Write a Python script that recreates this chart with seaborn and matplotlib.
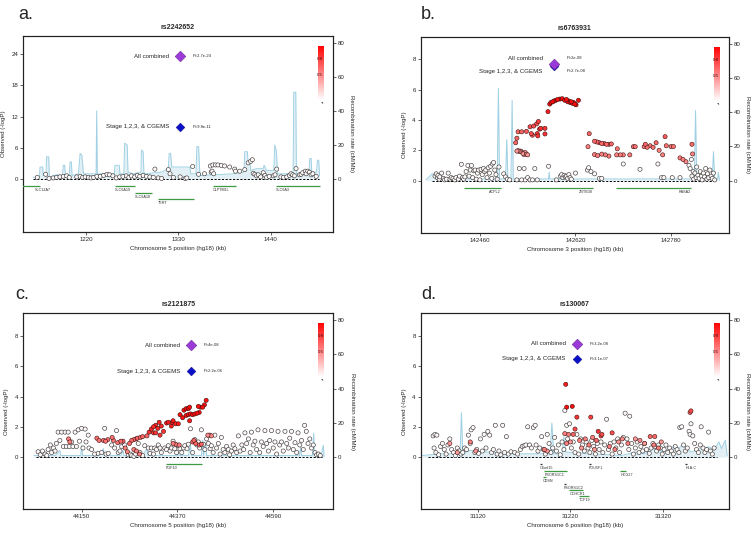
import numpy as np
import pandas as pd
import matplotlib
matplotlib.use("Agg")
import matplotlib.pyplot as plt
import seaborn as sns
from matplotlib.colors import LinearSegmentedColormap

sns.set_style("ticks")
plt.rcParams['font.family'] = ['Liberation Sans', 'DejaVu Sans']

# ---------------- DATA ----------------
titles = ["rs2242652", "rs6763931", "rs2121875", "rs130067"]
panel_letters = ["a.", "b.", "c.", "d."]
chromosomes = [5, 3, 5, 6]
index_pos = [1332, 142584, 44402, 31227]
p_combined = [2.7e-24, 2e-08, 4e-08, 3.2e-08]
p_stage = [9.8e-11, 2.7e-08, 2.2e-06, 3.1e-07]
p_combined_txt = ["P=2.7e-24", "P=2e-08", "P=4e-08", "P=3.2e-08"]
p_stage_txt = ["P=9.8e-11", "P=2.7e-08", "P=2.2e-06", "P=3.1e-07"]

# panel a: (position kb, -log10 P) low-LD SNPs
a_pos = [1162,1172,1176,1181,1185,1189,1193,1197,1200,1209,1213,1216,1219,1223,1226,1229,1233,1237,1241,
         1245,1248,1252,1256,1260,1264,1268,1271,1274,1278,1281,1284,1288,1292,1296,1300,1302,1306,1310,1318,
         1320,1324,1332,1338,1340,1347,1354,1361,1368,1369,1370,1371,1372,1374,1377,1381,1385,1391,1397,1398,
         1403,1409,1413,1416,1418,1419,1421,1423,1425,1428,1431,1433,1435,1438,1443,1445,1447,1452,1455,1459,
         1462,1464,1466,1468,1470,1474,1476,1478,1481,1482,1484,1486,1488,1490,1494]
a_logp = [0.3,0.9,0.1,0.2,0.3,0.4,0.5,0.6,0.3,0.4,0.5,0.3,0.4,0.3,0.2,0.3,0.5,0.5,0.7,
          0.9,0.8,0.6,0.2,0.4,0.5,0.6,0.3,0.6,0.4,0.7,0.5,0.7,0.5,0.4,0.3,1.9,0.2,0.1,1.8,
          1.0,0.3,0.4,0.1,0.2,2.4,0.9,1.0,2.5,1.3,1.5,2.7,1.0,2.7,2.7,2.6,2.5,2.3,1.9,1.5,
          1.5,1.8,3.1,3.4,3.7,1.1,0.9,0.6,0.8,0.4,1.2,0.7,0.3,0.5,0.6,0.8,1.9,0.4,0.3,0.4,
          0.7,1.0,0.8,0.6,2.0,0.8,0.9,1.2,1.5,1.0,1.5,1.3,0.8,1.0,0.5]
a_ld = []

a_rec = [(1157,1),(1164.5,1),(1165.3,7),(1168.5,7),(1169,2),(1172.4,2),(1173,13),(1175.6,13),(1176.4,1),
         (1185,2.5),(1192,2),(1193,8),(1194.6,8),(1195.4,2),(1200,2),(1201,10),(1202.6,10),(1203.4,2),
         (1211,3),(1213,15),(1215,14),(1217,3),(1232,3),(1232.7,40),(1233.5,3),(1253.7,3),(1254.5,8),
         (1259.6,8),(1260.4,3),(1265,3),(1266,21),(1269,20),(1270,4),(1276,3),(1285.4,4),(1286,17),
         (1288,16),(1289,3),(1310,4),(1318,6),(1319,15),(1320.7,15),(1322,7),(1343.7,7),(1344.5,3),
         (1350.8,3),(1352,19),(1354,19),(1355.6,2),(1395,3),(1408,4),(1409,16),(1412,16),(1413,10),
         (1415,10),(1416,5),(1423,6),(1431,6),(1432,8),(1435,5),(1443.5,5),(1444.7,20),(1446.7,16),
         (1448,3),(1466.5,3),(1467.3,51),(1469.7,51),(1470.5,3),(1485.5,4),(1486.3,12),(1488,12),
         (1488.7,4),(1494.3,4),(1495.5,11),(1497,11),(1498,2)]

a_genes = [("SLC12A7",1130,1165,0,'l'),("SLC6A19",1254,1278,0,'l'),("SLC6A18",1278,1299,1,'l'),
           ("TERT",1306,1348,2,'l'),("CLPTM1L",1371,1398,0,'l'),("SLC6A3",1446,1499,0,'l')]

# panel b
b_white = [(142385,0.3),(142387,0.45),(142389,0.2),(142390,0.35),(142392,0.1),(142393,0.25),(142396,0.5),
           (142399,0.15),(142401,0.05),(142404,0.1),(142407,0.5),(142410,0.1),(142412,0.2),(142415,0.15),
           (142418,0.05),(142420,0.2),(142424,0.1),(142426,0.3),(142429,1.08),(142431,0.2),(142433,0.1),
           (142435,0.25),(142437,0.6),(142440,1.0),(142442,0.3),(142444,0.7),(142446,1.0),(142448,0.2),
           (142450,0.65),(142452,0.7),(142454,0.1),(142456,0.5),(142458,0.7),(142460,0.05),(142462,0.75),
           (142464,0.4),(142466,0.8),(142468,0.6),(142470,0.7),(142472,0.2),(142474,0.85),(142476,0.5),
           (142478,0.95),(142480,0.15),(142481,1.1),(142483,1.2),(142485,0.7),(142487,0.4),(142489,0.1),
           (142492,0.9),(142500,0.45),(142503,0.25),(142506,0.1),(142510,0.05),(142522,0.05),(142526,0.8),
           (142530,0.05),(142534,0.8),(142536,0.05),(142540,0.2),(142544,0.05),(142548,0.05),(142552,0.8),
           (142556,0.05),(142575,0.95),(142588,0.05),(142595,0.3),(142597,0.4),(142599,0.2),(142601,0.35),
           (142603,0.25),(142605,0.3),(142607,0.15),(142609,0.4),(142611,0.2),(142613,0.1),(142620,0.5),
           (142640,0.7),(142642,0.85),(142646,0.6),(142652,0.45),(142660,0.15),(142664,0.15),(142700,1.1),
           (142728,0.75),(142758,1.1),(142764,0.2),(142768,0.2),(142782,0.2),(142795,0.2),(142810,1.0),
           (142812,0.8),(142814,1.4),(142815,0.3),(142817,0.6),(142818,0.1),(142820,0.5),(142822,0.2),
           (142823,0.9),(142825,0.35),(142827,0.15),(142829,0.6),(142831,0.3),(142832,0.05),(142834,0.5),
           (142836,0.25),(142838,0.8),(142840,0.1),(142841,0.45),(142843,0.2),(142845,0.7),(142847,0.3),
           (142849,0.15),(142851,0.5),(142853,0.05)]
b_ld = [(142520,2.5,0.6),(142522,2.8,0.6),(142524,3.22,0.6),(142530,3.22,0.6),(142538,3.25,0.65),
        (142544,3.55,0.7),(142546,3.1,0.7),(142548,3.0,0.7),(142550,3.6,0.7),(142555,3.74,0.7),
        (142556,3.1,0.8),(142558,3.9,0.75),(142560,3.4,0.8),(142562,3.45,0.8),(142557,2.95,0.8),
        (142569,3.45,0.8),(142569,3.08,0.8),
        (142522,1.95,0.4),(142524,1.98,0.4),(142526,1.92,0.4),(142528,1.95,0.4),(142530,1.9,0.4),
        (142532,1.8,0.4),(142534,1.72,0.4),(142536,1.85,0.4),(142538,1.75,0.4),(142540,1.7,0.4),
        (142574,4.55,0.9),(142577,5.05,0.95),(142579,5.15,0.95),(142582,5.2,0.95),(142584,5.25,0.95),
        (142587,5.3,0.95),(142590,5.35,0.95),(142594,5.38,0.95),(142598,5.4,0.95),(142602,5.3,0.95),
        (142605,5.35,0.95),(142607,5.2,0.95),(142609,5.25,0.95),(142611,5.15,0.95),(142613,5.2,0.95),
        (142615,5.1,0.95),(142617,5.15,0.95),(142619,5.05,0.95),(142621,5.0,0.95),(142625,5.3,0.95),
        (142643,3.1,0.6),(142641,2.24,0.5),(142652,2.6,0.6),(142656,2.55,0.6),(142660,2.5,0.6),
        (142664,2.45,0.6),(142668,2.45,0.6),(142672,2.4,0.6),(142676,2.4,0.6),(142680,2.42,0.6),
        (142652,1.72,0.5),(142657,1.65,0.5),(142664,1.75,0.5),(142670,1.7,0.5),(142676,1.62,0.5),
        (142690,2.1,0.55),(142689,1.7,0.5),(142695,1.7,0.5),(142700,1.7,0.5),(142711,1.7,0.5),
        (142717,2.24,0.55),(142720,2.24,0.55),(142735,2.24,0.55),(142737,2.4,0.6),(142740,2.2,0.55),
        (142745,2.3,0.55),(142750,2.2,0.55),(142755,2.5,0.6),(142760,2.0,0.5),(142766,1.7,0.5),
        (142770,2.9,0.65),(142772,2.3,0.55),(142780,2.25,0.55),(142784,2.25,0.55),(142795,1.5,0.5),
        (142800,1.4,0.5),(142805,1.25,0.45),(142816,1.76,0.5),(142815,2.4,0.6)]
b_rec = [(142370,0.5),(142380,4),(142388,4),(142392,1),(142440,1),(142489,1),(142491,54),(142493,1),
         (142503,1),(142505,24),(142507,1),(142512,1),(142514,47),(142516,1),(142575,1),(142576,5),
         (142577,1),(142640,1),(142700,1),(142760,1),(142815,1),(142819,1),(142821,41),(142823,2),
         (142849,2),(142851,17),(142853,1),(142858,1),(142859,5),(142861,0.5)]
b_genes = [("ACPL2",142434,142495,0,'r'),("ZBTB38",142526,142650,0,'r'),("RASA2",142688,142813,0,'r')]

# panel c
c_white = [(44050,0.35),(44055,0.15),(44060,0.4),(44066,0.2),(44070,0.1),(44073,0.5),(44078,0.8),(44081,0.3),
           (44085,0.6),(44089,0.4),(44092,0.9),(44096,1.65),(44100,1.1),(44104,1.65),(44108,0.7),(44112,1.65),
           (44115,0.7),(44119,1.65),(44122,0.7),(44127,1.0),(44130,0.7),(44135,1.65),(44138,0.7),(44142,1.8),
           (44145,1.05),(44150,1.9),(44153,0.6),(44158,1.85),(44160,1.0),(44165,1.45),(44167,0.6),(44173,0.5),
           (44180,0.2),(44188,0.25),(44196,0.3),(44203,1.9),(44206,0.2),(44211,0.25),(44219,0.8),(44226,0.6),
           (44230,1.75),(44234,0.3),(44238,0.4),(44242,0.7),(44249,0.8),(44257,0.15),(44262,0.2),(44265,0.1),
           (44270,0.05),(44274,0.2),(44280,0.9),(44284,0.3),(44290,0.1),(44295,0.75),(44303,0.6),(44307,0.25),
           (44310,0.6),(44315,0.2),(44318,0.6),(44322,0.5),(44326,0.8),(44330,0.6),(44333,0.3),(44341,0.6),
           (44345,0.5),(44349,0.75),(44353,0.4),(44356,0.6),(44360,1.05),(44364,0.55),(44368,0.3),(44372,0.75),
           (44376,0.55),(44380,0.3),(44384,0.6),(44387,0.75),(44392,0.55),(44395,0.85),(44400,1.87),(44405,0.3),
           (44410,1.15),(44415,0.8),(44418,1.0),(44421,0.6),(44425,1.8),(44430,0.85),(44433,0.5),(44437,1.2),
           (44441,0.9),(44445,0.55),(44448,0.75),(44452,0.3),(44456,1.45),(44460,0.6),(44464,0.9),(44468,0.2),
           (44471,1.3),(44475,0.5),(44479,0.3),(44483,0.7),(44487,0.5),(44490,0.15),(44494,0.4),(44498,0.8),
           (44502,0.55),(44506,0.3),(44510,1.4),(44514,0.4),(44518,0.8),(44522,0.5),(44525,1.6),(44529,0.9),
           (44533,1.2),(44537,0.3),(44540,1.65),(44544,0.8),(44548,1.05),(44552,0.5),(44555,1.8),(44559,0.3),
           (44563,1.0),(44567,0.7),(44571,1.75),(44575,0.9),(44579,0.4),(44582,1.1),(44586,1.75),(44590,0.6),
           (44594,1.0),(44598,0.2),(44601,1.7),(44605,0.8),(44609,1.0),(44613,0.4),(44617,1.7),(44621,0.9),
           (44625,0.6),(44628,1.25),(44632,1.7),(44636,0.5),(44640,0.95),(44644,0.3),(44647,1.6),(44651,0.8),
           (44655,1.1),(44659,0.5),(44662,2.1),(44666,1.7),(44670,0.9),(44674,1.2),(44678,0.6),(44682,0.8),
           (44686,0.3),(44690,0.15),(44694,0.2),(44698,0.1)]
c_ld = [(44120,1.2,0.5),(44123,1.0,0.5),(44185,1.25,0.55),(44190,1.1,0.55),(44200,1.1,0.55),(44205,1.05,0.55),
        (44210,1.15,0.55),(44220,1.3,0.55),(44223,1.1,0.55),(44233,0.95,0.55),(44240,1.05,0.6),(44245,1.05,0.6),
        (44260,0.9,0.6),(44265,1.1,0.6),(44270,1.15,0.6),(44275,1.2,0.6),(44278,1.25,0.6),(44285,1.3,0.6),
        (44290,1.35,0.6),(44300,1.4,0.6),(44270,0.5,0.5),(44276,0.4,0.5),(44250,0.6,0.5),(44255,0.35,0.5),
        (44283,0.2,0.5),(44360,0.9,0.5),(44366,0.85,0.5),(44374,0.8,0.5),(44405,1.0,0.6),(44408,1.1,0.6),
        (44412,0.9,0.6),(44420,0.8,0.6),(44425,0.85,0.6),(44440,1.45,0.45),(44444,1.45,0.45),(44448,1.4,0.45),
        (44305,1.65,0.8),(44310,1.85,0.85),(44315,2.0,0.85),(44320,2.1,0.85),(44325,1.9,0.85),(44328,2.3,0.85),
        (44333,2.05,0.85),(44315,1.6,0.8),(44320,1.6,0.8),(44330,1.45,0.8),(44338,1.7,0.8),(44345,2.25,0.9),
        (44349,2.3,0.9),(44356,2.05,0.9),(44358,2.3,0.9),(44360,2.4,0.9),(44366,2.2,0.9),(44372,2.2,0.9),
        (44376,2.8,0.95),(44382,2.6,0.95),(44385,3.1,0.95),(44390,3.2,0.95),(44395,3.2,0.95),(44398,3.3,0.95),
        (44390,2.75,0.95),(44395,2.8,0.95),(44400,2.85,0.95),(44405,2.8,0.95),(44410,2.85,0.95),(44415,2.9,0.95),
        (44420,2.95,0.95),(44423,3.3,0.95),(44398,2.4,0.9),(44418,3.35,0.95),(44432,3.45,0.95),(44436,3.75,0.95),
        (44428,3.3,0.95)]
c_rec = [(44040,1),(44090,1),(44100,4),(44102,1),(44148,1),(44150,7),(44152,1),(44190,1),(44200,5),(44202,1),
         (44240,1),(44245,4),(44247,1),(44290,1),(44300,5),(44302,1),(44370,1),(44372,3),(44374,1),(44395,1),
         (44400,7),(44402,1),(44425,1),(44428,10),(44430,1),(44435,8),(44437,1),(44500,1),(44560,1),(44600,1),
         (44650,1),(44653,6),(44655,1),(44680,1),(44683,14),(44685,1),(44700,1),(44705,7),(44707,0.5)]
c_genes = [("FGF10",44343,44427,0,'l')]

# panel d
d_white = [(31072,1.4),(31074,1.5),(31076,1.45),(31073,0.6),(31075,0.3),(31078,0.15),(31080,0.7),(31082,0.9),
           (31084,0.5),(31086,0.2),(31088,0.8),(31090,1.2),(31092,0.5),(31094,0.3),(31096,0.1),(31098,0.6),
           (31100,0.4),(31102,0.2),(31104,0.3),(31106,0.6),(31108,0.5),(31110,1.45),(31112,0.9),(31113,1.8),
           (31115,1.95),(31117,0.3),(31119,0.5),(31121,0.25),(31123,1.2),(31125,0.4),(31127,1.5),(31129,0.6),
           (31131,1.7),(31133,1.45),(31135,0.3),(31137,0.5),(31139,2.1),(31141,0.2),(31143,0.4),(31145,0.15),
           (31147,2.1),(31149,0.3),(31151,1.35),(31153,0.2),(31156,0.35),(31160,0.3),(31163,0.2),(31166,0.5),
           (31168,0.7),(31170,0.75),(31172,0.8),(31174,2.0),(31176,0.8),(31178,0.6),(31180,1.95),(31182,2.1),
           (31183,0.8),(31185,0.4),(31187,0.6),(31189,1.35),(31191,0.5),(31193,0.2),(31195,1.5),(31197,0.9),
           (31199,0.3),(31201,0.6),(31203,1.3),(31205,0.4),(31207,0.8),(31209,0.15),(31211,1.0),(31213,0.5),
           (31214,3.08),(31216,2.1),(31217,1.2),(31219,2.2),(31221,0.6),(31223,1.0),(31225,0.3),(31227,1.5),
           (31229,0.2),(31231,1.2),(31233,0.8),(31235,0.4),(31237,1.0),(31239,0.6),(31241,0.3),(31243,1.1),
           (31245,0.7),(31247,0.2),(31249,0.9),(31251,0.5),(31253,1.0),(31255,0.3),(31257,0.8),(31259,2.5),
           (31261,0.5),(31263,0.9),(31265,0.2),(31267,1.0),(31269,0.6),(31271,1.2),(31273,0.3),(31275,0.8),
           (31277,1.3),(31279,2.9),(31281,1.2),(31283,0.5),(31284,2.7),(31286,0.9),(31288,0.2),(31290,0.6),
           (31292,1.0),(31294,0.3),(31296,0.7),(31298,0.4),(31300,0.9),(31302,0.5),(31305,0.25),(31307,0.6),
           (31309,0.9),(31311,0.7),(31313,0.4),(31315,0.8),(31317,0.6),(31319,0.2),(31321,0.5),(31323,0.8),
           (31325,0.3),(31327,0.6),(31329,0.4),(31331,0.2),(31333,0.7),(31335,0.5),(31337,0.3),(31338,1.95),
           (31340,2.0),(31342,0.8),(31344,0.4),(31346,0.6),(31348,1.7),(31349,1.5),(31350,2.2),(31352,1.4),
           (31354,0.9),(31356,0.5),(31358,0.3),(31360,0.8),(31361,2.0),(31363,0.6),(31365,0.3),(31367,0.5),
           (31369,1.65),(31371,0.4),(31373,0.2),(31375,0.6)]
d_ld = [(31215,4.81,0.9),(31216,3.3,0.95),(31222,3.35,0.95),(31227,2.64,0.8),(31242,2.64,0.75),(31250,1.7,0.8),
        (31253,1.4,0.7),(31254,1.5,0.7),(31265,1.6,0.7),(31306,1.36,0.6),(31311,1.36,0.6),(31350,3.05,0.7),
        (31349,2.95,0.6),(31225,1.85,0.7),(31223,1.5,0.6),(31214,1.55,0.5),(31218,1.5,0.5),(31216,0.9,0.5),
        (31220,1.0,0.4),(31230,1.1,0.5),(31236,1.2,0.5),(31240,0.8,0.5),(31244,1.3,0.5),(31248,1.1,0.6),
        (31232,0.6,0.4),(31246,0.5,0.4),(31262,0.7,0.5),(31268,0.5,0.5),(31272,1.0,0.4),(31276,1.2,0.45),
        (31282,0.9,0.5),(31290,1.2,0.4),(31295,1.1,0.45),(31300,0.9,0.4),(31310,0.8,0.5),(31315,0.6,0.5),
        (31318,1.0,0.4),(31090,0.9,0.4),(31112,1.0,0.5),(31118,0.4,0.4),(31192,0.5,0.5),(31195,0.4,0.4),
        (31098,0.3,0.4)]
d_rec = [(31060,1),(31080,2),(31095,2),(31101,2),(31102.5,26),(31104,2),(31112,4),(31150,2),(31180,2),
         (31198,2),(31200,20),(31202,2),(31211,2),(31213,12),(31215,3),(31240,2),(31275,1),(31290,3),
         (31300,2),(31310,5),(31320,3),(31330,6),(31335,4),(31340,7),(31350,3),(31360,5),(31370,6),
         (31375,4),(31380,9),(31383,5),(31387,10),(31389,1)]
d_genes = [("C6orf15",31187,31189,0,'l'),("PSORS1C1",31192,31216,1,'l'),("CDSN",31190,31194,2,'l'),
           ("PSORS1C2",31213,31215,3,'l'),("CCHCR1",31219,31234,4,'l'),("TCF19",31229,31240,5,'l'),
           ("POU5F1",31240,31242,0,'l'),("HCG27",31274,31280,1,'l'),("HLA-C",31344,31346,0,'l')]

a_white = list(zip(a_pos, a_logp))
white_sets = [a_white, b_white, c_white, d_white]
ld_sets = [a_ld, b_ld, c_ld, d_ld]
rec_sets = [a_rec, b_rec, c_rec, d_rec]
gene_sets = [a_genes, b_genes, c_genes, d_genes]

# ---------------- LAYOUT / STYLE ----------------
W, H = 755, 536
rects = [(23, 36, 333, 232), (420.7, 37, 729, 233), (23.3, 313.3, 333.3, 509.3), (420.7, 313.3, 729, 509.3)]
xlims = [(1145, 1514), (142361, 142877), (44016, 44728), (31058.6, 31391)]
ylims = [(-10.2, 27.5), (-3.45, 9.47), (-3.45, 9.5), (-3.45, 9.5)]
rlims = [(-31.2, 84), (-30.6, 84), (-30.4, 84), (-30.4, 84)]
yticks = [[0, 6, 12, 18, 24], [0, 2, 4, 6, 8], [0, 2, 4, 6, 8], [0, 2, 4, 6, 8]]
xticks = [[1220, 1330, 1440], [142460, 142620, 142780], [44150, 44370, 44590], [31120, 31220, 31320]]
letter_pos = [(18, 19), (421, 19), (15, 299), (421, 299)]
text_dy = [(0, 0), (4, -4), (0, 0), (0, 0)]  # points

REC = "#9fd0e3"
GENE = "#3f9a44"
cmap = LinearSegmentedColormap.from_list("ld", ["#ffffff", "#ff0000"])
FS = 4.4

fig = plt.figure(figsize=(W / 100, H / 100), dpi=100)

for i in range(4):
    l, t, r, b = rects[i]
    ax = fig.add_axes([l / W, 1 - b / H, (r - l) / W, (b - t) / H])
    ax2 = ax.twinx()
    ax.set_zorder(ax2.get_zorder() + 1)
    ax.patch.set_visible(False)

    # recombination rate
    rec = pd.DataFrame(rec_sets[i], columns=["pos", "rate"])
    ax2.fill_between(rec["pos"], 0, rec["rate"], color=REC, alpha=0.3, lw=0)
    sns.lineplot(data=rec, x="pos", y="rate", ax=ax2, color=REC, lw=0.7,
                 estimator=None, sort=False)
    ax2.set_ylim(*rlims[i])
    ax2.set_yticks([0, 20, 40, 60, 80])
    ax2.set_ylabel("Recombination rate (cM/Mb)", fontsize=FS, rotation=270, labelpad=7)
    ax2.tick_params(axis='y', labelsize=FS, length=2, width=0.5, pad=1.5)

    # baseline
    wdf = pd.DataFrame(white_sets[i], columns=["pos", "logp"])
    ldf = pd.DataFrame(ld_sets[i], columns=["pos", "logp", "r2"]) if ld_sets[i] else pd.DataFrame(columns=["pos", "logp", "r2"])
    allpos = pd.concat([wdf["pos"], ldf["pos"]])
    ax.plot([allpos.min() - 5, allpos.max() + 3], [0, 0], color="black", lw=0.7, ls=(0, (2.2, 1.6)), zorder=2)

    # SNPs
    wdf["r2"] = 0.03
    sns.scatterplot(data=wdf, x="pos", y="logp", hue="r2", palette=cmap, hue_norm=(0, 1), s=9,
                    edgecolor="#2a2a2a", linewidth=0.4, legend=False, ax=ax, zorder=3)
    if len(ldf):
        ldf = ldf.sort_values("r2")
        sns.scatterplot(data=ldf, x="pos", y="logp", hue="r2", palette=cmap, hue_norm=(0, 1), s=9,
                        edgecolor="#3a1010", linewidth=0.4, legend=False, ax=ax, zorder=4)

    # index SNP diamonds
    y_comb = -np.log10(p_combined[i])
    y_stage = -np.log10(p_stage[i])
    sns.scatterplot(x=[index_pos[i]], y=[y_stage], marker="D", s=20, color="#0a10c8",
                    edgecolor="#00007a", linewidth=0.3, ax=ax, zorder=5, legend=False)
    sns.scatterplot(x=[index_pos[i]], y=[y_comb], marker="D", s=30, color="#9a3ad8",
                    edgecolor="#5a1a80", linewidth=0.3, ax=ax, zorder=6, legend=False)
    dy1, dy2 = text_dy[i]
    ax.annotate("All combined", xy=(index_pos[i], y_comb), xytext=(-8, dy1), textcoords="offset points",
                ha="right", va="center", fontsize=4.4)
    ax.annotate(p_combined_txt[i], xy=(index_pos[i], y_comb), xytext=(9, dy1), textcoords="offset points",
                ha="left", va="center", fontsize=3.0)
    ax.annotate("Stage 1,2,3, & CGEMS", xy=(index_pos[i], y_stage), xytext=(-8, dy2), textcoords="offset points",
                ha="right", va="center", fontsize=4.4)
    ax.annotate(p_stage_txt[i], xy=(index_pos[i], y_stage), xytext=(9, dy2), textcoords="offset points",
                ha="left", va="center", fontsize=3.0)

    # genes
    ppu = (b - t) / (ylims[i][1] - ylims[i][0])
    vis_left = min(rec["pos"].min(), allpos.min())
    for name, gs, ge, row, al in gene_sets[i]:
        gy = -(7.4 + 6.4 * row) / ppu
        ax.hlines(gy, gs, ge, color=GENE if ge - gs > 3 else "#333333", lw=0.9, zorder=3)
        if al == 'l':
            lx = max(gs, vis_left + 2)
            ha = 'left'
        else:
            lx = ge
            ha = 'right'
        ax.annotate(name, xy=(lx, gy), xytext=(0, -1.4), textcoords="offset points",
                    ha=ha, va="top", fontsize=2.7, color="#333333")

    ax.set_xlim(*xlims[i])
    ax.set_ylim(*ylims[i])
    ax.set_xticks(xticks[i])
    ax.set_yticks(yticks[i])
    ax.tick_params(labelsize=FS, length=2, width=0.5, pad=1.5)
    ax.set_xlabel(f"Chromosome {chromosomes[i]} position (hg18) (kb)", fontsize=FS, labelpad=3)
    ax.set_ylabel("Observed (-logP)", fontsize=FS, labelpad=4)
    ax.set_title(titles[i], fontsize=5.0, fontweight="bold", pad=5)
    for sp in list(ax.spines.values()) + list(ax2.spines.values()):
        sp.set_linewidth(0.8)
        sp.set_color("#222222")

    # LD colour key
    cax = ax.inset_axes([0.950, 0.673, 0.018, 0.277])
    cax.imshow(np.linspace(0, 1, 120).reshape(-1, 1), cmap=cmap, aspect="auto", origin="lower",
               extent=(0, 1, 0, 1))
    cax.set_axis_off()
    cax.text(0.5, 0.76, "0.8", fontsize=3.2, ha="center", va="center", color="#4a0a0a", transform=cax.transAxes)
    cax.text(0.5, 0.47, "0.5", fontsize=3.2, ha="center", va="center", color="#4a0a0a", transform=cax.transAxes)
    cax.text(0.5, -0.02, "r²", fontsize=3.2, ha="center", va="top", rotation=270, color="#333333",
             transform=cax.transAxes)

    fig.text(letter_pos[i][0] / W, 1 - letter_pos[i][1] / H, panel_letters[i], fontsize=13,
             ha="left", va="baseline")

fig.savefig("out.png", dpi=100)
